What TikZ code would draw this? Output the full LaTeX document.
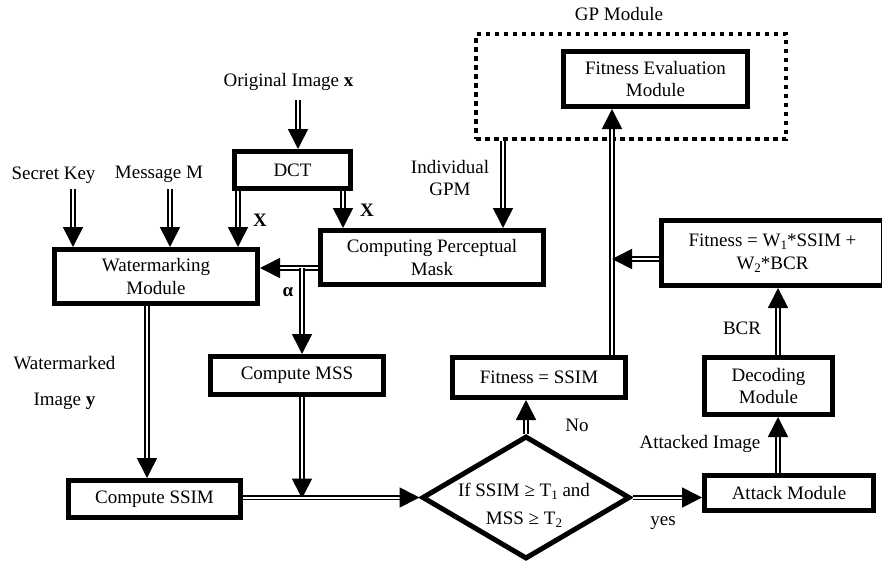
\documentclass[tikz,border=0pt]{standalone}
\usepackage{fontspec}
\setmainfont{Liberation Serif}
\usetikzlibrary{arrows.meta,shapes.geometric}
\newcommand\lowsub[1]{\raisebox{-0.35ex}{\fontsize{13}{13}\selectfont #1}}
\begin{document}
\begin{tikzpicture}[x=1pt,y=-1pt,
  every node/.style={font=\fontsize{19}{22.5}\selectfont, inner sep=0pt},
  box/.style={draw, line width=5pt, align=center},
  lbl/.style={align=center},
  dbl/.style={double, double distance=2pt, line width=1.6pt, -{Triangle[length=20pt,width=20pt]}}]
\useasboundingbox (0,0) rectangle (882,565);
% boxes
\node[box, minimum width=116, minimum height=37] (dct) at (292.5,170) {DCT};
\node[box, minimum width=203, minimum height=54] (wm) at (156,276.5) {Watermarking\\Module};
\node[box, minimum width=223, minimum height=54] (cpm) at (432,257.5) {Computing Perceptual\\Mask};
\node[box, minimum width=173, minimum height=38] (mss) at (297,375.5) {Compute MSS};
\node[box, minimum width=172, minimum height=37] (ssim) at (154.5,499) {Compute SSIM};
\node[box, minimum width=173, minimum height=40] (fs) at (539,377.5) {Fitness = SSIM};
\node[box, minimum width=184, minimum height=55] (fe) at (655.5,79) {Fitness Evaluation\\Module};
\node[box, minimum width=222, minimum height=65] (fw) at (772.5,253) {Fitness = W\lowsub{1}*SSIM +\\W\lowsub{2}*BCR};
\node[box, minimum width=128, minimum height=57] (dec) at (768.5,386) {Decoding\\Module};
\node[box, minimum width=169, minimum height=35] (att) at (789,493) {Attack Module};
\node[draw, line width=5pt, shape=diamond, minimum width=208, minimum height=123] (dia) at (526,497.5) {};
\node[lbl, font=\fontsize{19}{28}\selectfont] (diat) at (524,505) {If SSIM ≥ T\lowsub{1} and\\MSS ≥ T\lowsub{2}};
% GP module
\node[draw, line width=4.5pt, dash pattern=on 4.5pt off 4.5pt, minimum width=310, minimum height=105] (gp) at (631,86.5) {};
% labels
\node (gpl) at (619,14) {GP Module};
\node (orig) at (288.5,82) {Original Image \textbf{x}};
\node (key) at (53.5,175) {Secret Key};
\node (msg) at (159,174) {Message M};
\node (xa) at (260,220) {\textbf{X}};
\node (xb) at (367,210) {\textbf{X}};
\node (al) at (288,292) {\textbf{α}};
\node[lbl] (ind) at (450,178) {Individual\\GPM};
\node[lbl] (wmk) at (64.5,383) {Watermarked\\[14pt]Image \textbf{y}};
\node (no) at (577,425) {No};
\node (yes) at (663,523) {yes};
\node (atl) at (700,444) {Attacked Image};
\node (bcr) at (742,328) {BCR};
% coordinates
\coordinate (o1) at (298,100);
\coordinate (k1) at (73,189);
\coordinate (m1) at (170,189);
\coordinate (d1) at (238,0);
\coordinate (d2) at (343,0);
\coordinate (g1) at (503,0);
\coordinate (a1) at (0,268);
\coordinate (br) at (302,268);
\coordinate (s1) at (147,0);
\coordinate (jn) at (302,497.5);
\coordinate (f1) at (612,0);
\coordinate (v1) at (778,0);
\coordinate (w1) at (0,259);
% connectors
\draw[dbl] (o1) -- (o1 |- dct.north);
\draw[dbl] (k1) -- (k1 |- wm.north);
\draw[dbl] (m1) -- (m1 |- wm.north);
\draw[dbl] (d1 |- dct.south) -- (d1 |- wm.north);
\draw[dbl] (d2 |- dct.south) -- (d2 |- cpm.north);
\draw[dbl] (g1 |- gp.south) -- (g1 |- cpm.north);
\draw[dbl] (cpm.west |- a1) -- (wm.east |- a1);
\draw[dbl] (br) -- (br |- mss.north);
\draw[dbl] (s1 |- wm.south) -- (s1 |- ssim.north);
\draw[dbl] (jn |- mss.south) -- ([yshift=-1pt]jn);
\draw[dbl] (ssim.east |- dia.west) -- (dia.west);
\draw[dbl] (dia.north) -- (dia.north |- fs.south);
\draw[dbl] (f1 |- fs.north) -- (f1 |- fe.south);
\draw[dbl] (dia.east) -- (dia.east -| att.west);
\draw[dbl] (v1 |- att.north) -- (v1 |- dec.south);
\draw[dbl] (v1 |- dec.north) -- (v1 |- fw.south);
\draw[dbl] (fw.west |- w1) -- (f1 |- w1);
\end{tikzpicture}
\end{document}
